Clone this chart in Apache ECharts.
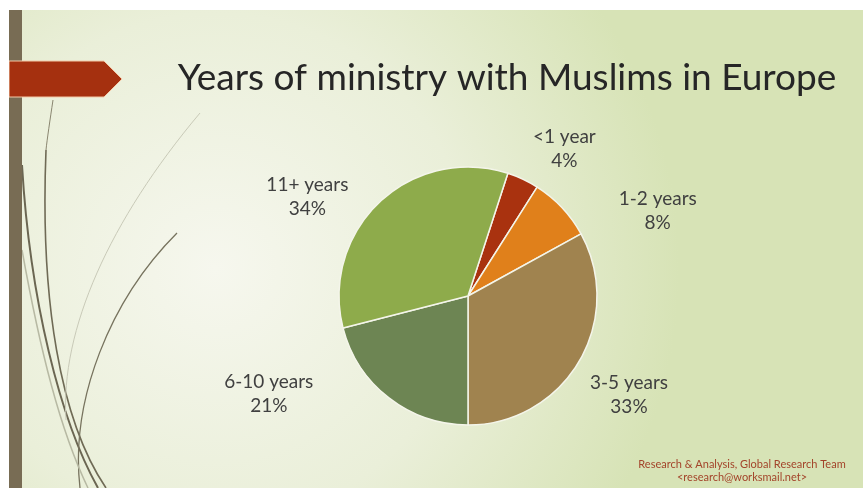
<!DOCTYPE html>
<html>
<head>
<meta charset="utf-8">
<script src="https://cdn.jsdelivr.net/npm/echarts@6/dist/echarts.min.js"></script>
<style>
  html, body { margin: 0; padding: 0; background: #fff; }
  #container { width: 863px; height: 488px; }
</style>
</head>
<body>
<div id="container"></div>
<script>
// slices, clockwise from the small red one
var categories = ['<1 year', '1-2 years', '3-5 years', '6-10 years', '11+ years'];
var shares = [4, 8, 33, 21, 34];
var sliceColors = ['#a9320f', '#e0801b', '#a0834f', '#6d8553', '#8eab4b'];

// label placement around the pie (distance from centre, extra turn in degrees)
var labelDist = [176, 208, 189, 222, 189];
var labelTurn = [8, 19, 1, 26, -15];

var FONT = 'Lato';
var cx = 468, cy = 296, R = 129, START = 72;

var myChart = echarts.init(document.getElementById('container'));

var total = shares.reduce(function (a, b) { return a + b; }, 0);
var midAngles = [];
var acc = 0;
shares.forEach(function (v) {
  midAngles.push((90 - START) + (acc + v / 2) / total * 360);
  acc += v;
});

var pieData = categories.map(function (name, i) {
  return { name: name, value: shares[i], itemStyle: { color: sliceColors[i] } };
});

var options = {
  backgroundColor: {
    type: 'radial', x: 0.25, y: 0.55, r: 0.95,
    colorStops: [
      { offset: 0, color: '#f6f7ee' },
      { offset: 0.55, color: '#eaefd9' },
      { offset: 1, color: '#d7e3b6' }
    ]
  },
  title: {
    text: 'Years of ministry with Muslims in Europe',
    left: 502, top: 55, textAlign: 'center',
    textStyle: { fontFamily: FONT, fontSize: 37, fontWeight: 'normal', color: '#262626' }
  },
  graphic: [
    // white frame strips of the slide picture
    { type: 'rect', left: 0, top: 0, shape: { width: 863, height: 10 }, style: { fill: '#ffffff' }, z: 10 },
    { type: 'rect', left: 0, top: 0, shape: { width: 9, height: 488 }, style: { fill: '#ffffff' }, z: 10 },
    // brown bar
    { type: 'rect', shape: { x: 9, y: 10, width: 13, height: 478 }, style: { fill: '#786c54' }, z: 5 },
    // red arrow
    { type: 'polygon', shape: { points: [[9, 61], [104, 61], [122, 79], [104, 97], [9, 97]] },
      style: { fill: '#a5300f', stroke: '#f3c9a8', lineWidth: 1 }, z: 6 },
    // decorative curves
    { type: 'bezierCurve', shape: { x1: 22, y1: 165, cpx1: 30, cpy1: 300, cpx2: 60, cpy2: 420, x2: 98, y2: 488 },
      style: { stroke: '#6b6652', lineWidth: 2, fill: null }, z: 4 },
    { type: 'bezierCurve', shape: { x1: 46, y1: 150, cpx1: 40, cpy1: 300, cpx2: 60, cpy2: 420, x2: 106, y2: 488 },
      style: { stroke: '#6f6a55', lineWidth: 1.6, fill: null }, z: 4 },
    { type: 'bezierCurve', shape: { x1: 53, y1: 100, cpx1: 50, cpy1: 120, cpx2: 47, cpy2: 140, x2: 46, y2: 150 },
      style: { stroke: '#8a8670', lineWidth: 1, fill: null }, z: 4 },
    { type: 'bezierCurve', shape: { x1: 177, y1: 233, cpx1: 110, cpy1: 300, cpx2: 70, cpy2: 400, x2: 80, y2: 488 },
      style: { stroke: '#77735e', lineWidth: 1.3, fill: null }, z: 4 },
    { type: 'bezierCurve', shape: { x1: 200, y1: 113, cpx1: 110, cpy1: 220, cpx2: 60, cpy2: 330, x2: 66, y2: 420 },
      style: { stroke: '#c9cab8', lineWidth: 1, fill: null }, z: 4 },
    { type: 'bezierCurve', shape: { x1: 22, y1: 250, cpx1: 40, cpy1: 350, cpx2: 60, cpy2: 430, x2: 88, y2: 488 },
      style: { stroke: '#b7b9a3', lineWidth: 1.5, fill: null }, z: 4 },
    // footer
    { type: 'text', x: 742, y: 458,
      style: { text: 'Research & Analysis, Global Research Team\n<research@worksmail.net>',
        align: 'center', verticalAlign: 'top', fill: '#a3442a', font: '11px ' + FONT, lineHeight: 13 }, z: 10 }
  ],
  series: [{
    type: 'pie',
    center: [cx, cy],
    radius: R,
    startAngle: START,
    clockwise: true,
    data: pieData,
    itemStyle: { borderColor: '#f4f5ea', borderWidth: 1.5 },
    label: {
      show: true,
      position: 'outside',
      formatter: '{b}\n{d}%',
      fontFamily: FONT,
      fontSize: 19,
      lineHeight: 24,
      color: '#404040'
    },
    labelLine: { show: false },
    labelLayout: function (params) {
      var i = params.dataIndex;
      var a = (midAngles[i] + labelTurn[i]) * Math.PI / 180;
      return {
        x: cx + labelDist[i] * Math.sin(a),
        y: cy - labelDist[i] * Math.cos(a),
        align: 'center',
        verticalAlign: 'middle'
      };
    },
    emphasis: { disabled: true },
    animation: false
  }]
};

myChart.setOption(options);
</script>
</body>
</html>
